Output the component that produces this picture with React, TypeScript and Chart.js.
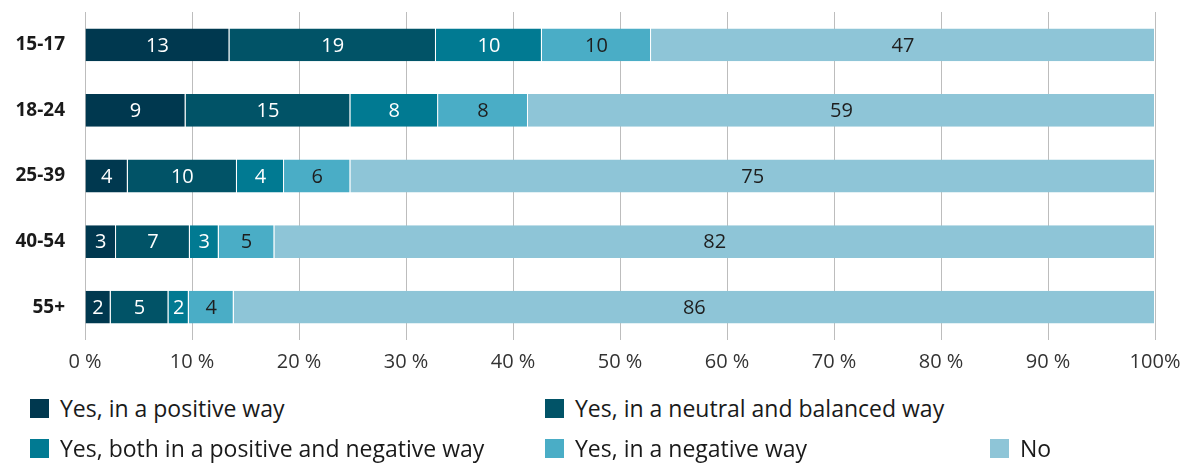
import React, { useEffect, useRef } from "react";
import { Chart, registerables } from "chart.js";

Chart.register(...registerables);

const categories = ["15-17", "18-24", "25-39", "40-54", "55+"];
const seriesNames = [
  "Yes, in a positive way",
  "Yes, in a neutral and balanced way",
  "Yes, both in a positive and negative way",
  "Yes, in a negative way",
  "No",
];
const positiveWay = [13.5, 9.4, 4.0, 2.9, 2.4];
const neutralWay = [19.3, 15.4, 10.2, 6.9, 5.4];
const bothWays = [9.9, 8.2, 4.4, 2.7, 1.9];
const negativeWay = [10.2, 8.4, 6.2, 5.2, 4.2];
const noAnswer = [47.1, 58.6, 75.2, 82.3, 86.1];
const displayLabels = [
  [13, 9, 4, 3, 2],
  [19, 15, 10, 7, 5],
  [10, 8, 4, 3, 2],
  [10, 8, 6, 5, 4],
  [47, 59, 75, 82, 86],
];
const colors = ["#00384F", "#015367", "#017A92", "#4AADC6", "#8EC5D7"];
const labelColors = ["#FFFFFF", "#FFFFFF", "#FFFFFF", "#1E1E1E", "#1E1E1E"];
const xTicks = [0, 10, 20, 30, 40, 50, 60, 70, 80, 90, 100];

const FONT = "'Open Sans', Lato, sans-serif";

const labelPlugin = {
  id: "segLabels",
  afterDatasetsDraw(chart: any) {
    const ctx = chart.ctx;
    ctx.save();
    ctx.font = `20px ${FONT}`;
    ctx.textAlign = "center";
    ctx.textBaseline = "middle";
    chart.data.datasets.forEach((ds: any, di: number) => {
      const meta = chart.getDatasetMeta(di);
      meta.data.forEach((bar: any, i: number) => {
        const x = (bar.x + bar.base) / 2;
        ctx.fillStyle = labelColors[di];
        ctx.fillText(String(displayLabels[di][i]), x, bar.y + 1);
      });
    });
    ctx.restore();
  },
};

export default function App() {
  const ref = useRef<HTMLCanvasElement | null>(null);
  useEffect(() => {
    if (!ref.current) return;
    const allSeries = [positiveWay, neutralWay, bothWays, negativeWay, noAnswer];
    const chart = new Chart(ref.current, {
      type: "bar",
      data: {
        labels: categories,
        datasets: allSeries.map((d, i) => ({
          label: seriesNames[i],
          data: d,
          backgroundColor: colors[i],
          borderColor: "rgba(255,255,255,0.45)",
          borderWidth: { left: 0, right: 1, top: 0, bottom: 0 },
          borderSkipped: false,
          barPercentage: 1,
          categoryPercentage: 0.5,
        })),
      },
      options: {
        indexAxis: "y",
        responsive: false,
        animation: false,
        layout: { padding: { top: 12, right: 30, left: 0, bottom: 0 } },
        plugins: { legend: { display: false }, tooltip: { enabled: false } },
        scales: {
          x: {
            stacked: true,
            min: 0,
            max: 100,
            afterBuildTicks: (s: any) => {
              s.ticks = xTicks.map((v) => ({ value: v }));
            },
            afterFit: (s: any) => {
              s.height = 45;
              s.paddingLeft = 0;
              s.paddingRight = 0;
              s.paddingTop = 0;
              s.paddingBottom = 0;
            },
            grid: { color: "#BDBDBD", lineWidth: 1, drawTicks: false },
            border: { display: false },
            ticks: {
              padding: 10,
              color: "#333333",
              font: { family: FONT, size: 20 },
              callback: (v: any) => (v === 100 ? "100%" : `${v} %`),
            },
          },
          y: {
            stacked: true,
            afterFit: (s: any) => {
              s.width = 85;
              s.paddingLeft = 0;
              s.paddingRight = 0;
              s.paddingTop = 0;
              s.paddingBottom = 0;
            },
            grid: { display: false, drawTicks: false },
            border: { display: false },
            ticks: {
              padding: 20,
              color: "#1A1A1A",
              font: { family: FONT, size: 19, weight: "bold" },
            },
          },
        },
      },
      plugins: [labelPlugin],
    } as any);
    return () => chart.destroy();
  }, []);

  const legendPos = [
    { left: 30, top: 398 },
    { left: 545, top: 398 },
    { left: 30, top: 438 },
    { left: 545, top: 438 },
    { left: 990, top: 438 },
  ];

  return (
    <div
      style={{
        position: "fixed",
        left: 0,
        top: 0,
        width: 1185,
        height: 463,
        background: "#fff",
        fontFamily: FONT,
      }}
    >
      <canvas ref={ref} width={1185} height={385} style={{ display: "block" }} />
      {seriesNames.map((n, i) => (
        <div
          key={n}
          style={{
            position: "absolute",
            left: legendPos[i].left,
            top: legendPos[i].top,
            height: 20,
            display: "flex",
            alignItems: "center",
            whiteSpace: "nowrap",
            fontSize: 23,
            color: "#1A1A1A",
          }}
        >
          <span
            style={{
              display: "inline-block",
              width: 19,
              height: 19,
              background: colors[i],
              marginRight: 11,
            }}
          />
          {n}
        </div>
      ))}
    </div>
  );
}
